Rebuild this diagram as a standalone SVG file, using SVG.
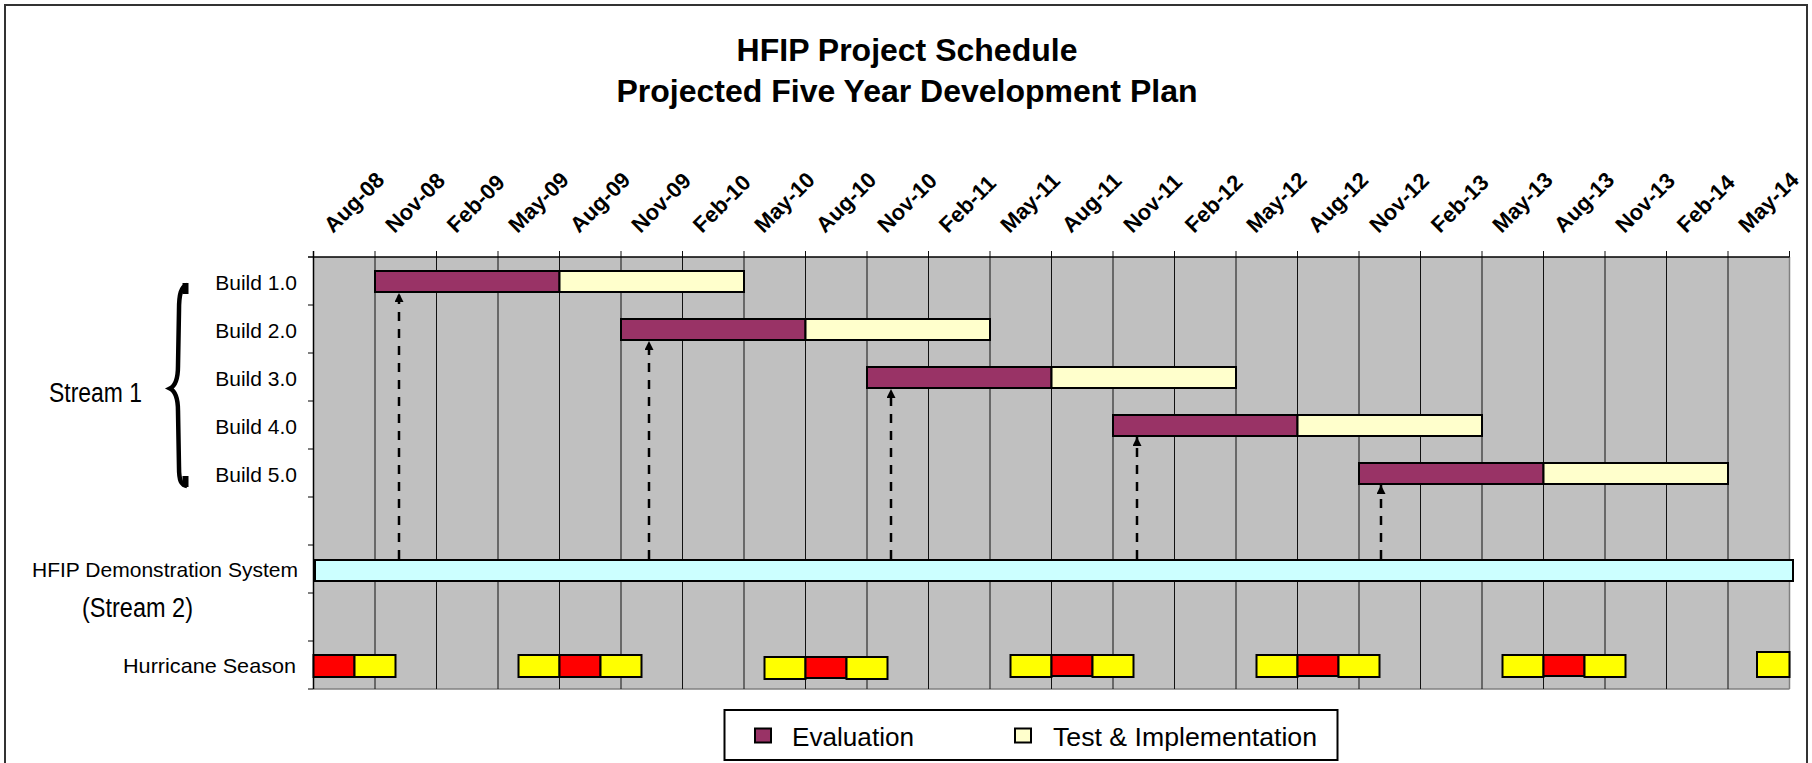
<svg xmlns="http://www.w3.org/2000/svg" width="1812" height="763" viewBox="0 0 1812 763">
  <defs>
    <style>
      text { font-family: "Liberation Sans", Arial, sans-serif; fill: #000; }
      .title { font-size: 32px; font-weight: bold; text-anchor: middle; }
      .axis { font-size: 22px; font-weight: bold; }
      .cat { font-size: 21px; text-anchor: end; }
      .stream { font-size: 27px; }
      .legend { font-size: 26px; }
      .grid { stroke: #111; stroke-width: 1; }
      .tick { stroke: #000; stroke-width: 1; }
      .bar { stroke: #000; stroke-width: 2; }
      .eval { fill: #993366; }
      .test { fill: #FFFFCC; }
      .demo { fill: #CCFFFF; }
      .red { fill: #FF0000; }
      .yel { fill: #FFFF00; }
      .link { fill: none; stroke: #000; stroke-width: 2.5; stroke-dasharray: 9 8; marker-end: url(#arrowUp); }
    </style>
    <marker id="arrowUp" markerUnits="userSpaceOnUse" viewBox="0 0 10 10" refX="10" refY="5" markerWidth="11" markerHeight="9" orient="auto">
      <path d="M0,0 L10,5 L0,10 Z" fill="#000"/>
    </marker>
  </defs>

  <!-- page frame -->
  <rect x="5" y="5" width="1802" height="800" fill="#fff" stroke="#333" stroke-width="2"/>

  <!-- title -->
  <g id="title">
    <text class="title" x="907" y="61">HFIP Project Schedule</text>
    <text class="title" x="907" y="102">Projected Five Year Development Plan</text>
  </g>

  <!-- plot area and grid -->
  <g id="plot">
    <rect x="313.5" y="257" width="1476" height="432" fill="#C0C0C0"/>
    <line x1="1789.5" y1="257" x2="1789.5" y2="689" stroke="#808080" stroke-width="1.5"/>
    <line x1="313.5" y1="689" x2="1789.5" y2="689" stroke="#808080" stroke-width="1.5"/>
    <g class="grid">
      <line x1="375" y1="251" x2="375" y2="689"/>
      <line x1="436.5" y1="251" x2="436.5" y2="689"/>
      <line x1="498" y1="251" x2="498" y2="689"/>
      <line x1="559.5" y1="251" x2="559.5" y2="689"/>
      <line x1="621" y1="251" x2="621" y2="689"/>
      <line x1="682.5" y1="251" x2="682.5" y2="689"/>
      <line x1="744" y1="251" x2="744" y2="689"/>
      <line x1="805.5" y1="251" x2="805.5" y2="689"/>
      <line x1="867" y1="251" x2="867" y2="689"/>
      <line x1="928.5" y1="251" x2="928.5" y2="689"/>
      <line x1="990" y1="251" x2="990" y2="689"/>
      <line x1="1051.5" y1="251" x2="1051.5" y2="689"/>
      <line x1="1113" y1="251" x2="1113" y2="689"/>
      <line x1="1174.5" y1="251" x2="1174.5" y2="689"/>
      <line x1="1236" y1="251" x2="1236" y2="689"/>
      <line x1="1297.5" y1="251" x2="1297.5" y2="689"/>
      <line x1="1359" y1="251" x2="1359" y2="689"/>
      <line x1="1420.5" y1="251" x2="1420.5" y2="689"/>
      <line x1="1482" y1="251" x2="1482" y2="689"/>
      <line x1="1543.5" y1="251" x2="1543.5" y2="689"/>
      <line x1="1605" y1="251" x2="1605" y2="689"/>
      <line x1="1666.5" y1="251" x2="1666.5" y2="689"/>
      <line x1="1728" y1="251" x2="1728" y2="689"/>
      <line x1="1789.5" y1="251" x2="1789.5" y2="257"/>
    </g>
    <!-- axes -->
    <line x1="308" y1="257" x2="1789.5" y2="257" stroke="#000" stroke-width="1.5"/>
    <line x1="313.5" y1="251" x2="313.5" y2="689" stroke="#000" stroke-width="1.5"/>
    <g class="tick">
      <line x1="308" y1="305" x2="313.5" y2="305"/>
      <line x1="308" y1="353" x2="313.5" y2="353"/>
      <line x1="308" y1="401" x2="313.5" y2="401"/>
      <line x1="308" y1="449" x2="313.5" y2="449"/>
      <line x1="308" y1="497" x2="313.5" y2="497"/>
      <line x1="308" y1="545" x2="313.5" y2="545"/>
      <line x1="308" y1="593" x2="313.5" y2="593"/>
      <line x1="308" y1="641" x2="313.5" y2="641"/>
      <line x1="308" y1="689" x2="313.5" y2="689"/>
    </g>
  </g>

  <!-- date axis labels -->
  <g id="date-axis" class="axis">
    <text transform="translate(333,234) rotate(-45)">Aug-08</text>
    <text transform="translate(394.5,234) rotate(-45)">Nov-08</text>
    <text transform="translate(456,234) rotate(-45)">Feb-09</text>
    <text transform="translate(517.5,234) rotate(-45)">May-09</text>
    <text transform="translate(579,234) rotate(-45)">Aug-09</text>
    <text transform="translate(640.5,234) rotate(-45)">Nov-09</text>
    <text transform="translate(702,234) rotate(-45)">Feb-10</text>
    <text transform="translate(763.5,234) rotate(-45)">May-10</text>
    <text transform="translate(825,234) rotate(-45)">Aug-10</text>
    <text transform="translate(886.5,234) rotate(-45)">Nov-10</text>
    <text transform="translate(948,234) rotate(-45)">Feb-11</text>
    <text transform="translate(1009.5,234) rotate(-45)">May-11</text>
    <text transform="translate(1071,234) rotate(-45)">Aug-11</text>
    <text transform="translate(1132.5,234) rotate(-45)">Nov-11</text>
    <text transform="translate(1194,234) rotate(-45)">Feb-12</text>
    <text transform="translate(1255.5,234) rotate(-45)">May-12</text>
    <text transform="translate(1317,234) rotate(-45)">Aug-12</text>
    <text transform="translate(1378.5,234) rotate(-45)">Nov-12</text>
    <text transform="translate(1440,234) rotate(-45)">Feb-13</text>
    <text transform="translate(1501.5,234) rotate(-45)">May-13</text>
    <text transform="translate(1563,234) rotate(-45)">Aug-13</text>
    <text transform="translate(1624.5,234) rotate(-45)">Nov-13</text>
    <text transform="translate(1686,234) rotate(-45)">Feb-14</text>
    <text transform="translate(1747.5,234) rotate(-45)">May-14</text>
  </g>

  <!-- stream 1 grouping -->
  <g id="stream1">
    <text class="stream" x="49" y="401.5" textLength="93" lengthAdjust="spacingAndGlyphs">Stream 1</text>
    <path d="M187,285 C181,287 179,294 179,310 L178,366 C178,380 175,386 170,388.5 C175,391 178,397 178,411 L179,467 C179,481 181,485 187,486" fill="none" stroke="#000" stroke-width="4.5"/>
    <rect x="182.5" y="283" width="6" height="11" fill="#000"/>
    <rect x="182.5" y="476" width="6" height="11" fill="#000"/>
  </g>

  <!-- builds -->
  <g id="build1">
    <text class="cat" x="297" y="290">Build 1.0</text>
    <rect class="bar eval" x="375" y="271" width="184.5" height="21"/>
    <rect class="bar test" x="559.5" y="271" width="184.5" height="21"/>
  </g>
  <g id="build2">
    <text class="cat" x="297" y="338">Build 2.0</text>
    <rect class="bar eval" x="621" y="319" width="184.5" height="21"/>
    <rect class="bar test" x="805.5" y="319" width="184.5" height="21"/>
  </g>
  <g id="build3">
    <text class="cat" x="297" y="386">Build 3.0</text>
    <rect class="bar eval" x="867" y="367" width="184.5" height="21"/>
    <rect class="bar test" x="1051.5" y="367" width="184.5" height="21"/>
  </g>
  <g id="build4">
    <text class="cat" x="297" y="434">Build 4.0</text>
    <rect class="bar eval" x="1113" y="415" width="184.5" height="21"/>
    <rect class="bar test" x="1297.5" y="415" width="184.5" height="21"/>
  </g>
  <g id="build5">
    <text class="cat" x="297" y="482">Build 5.0</text>
    <rect class="bar eval" x="1359" y="463" width="184.5" height="21"/>
    <rect class="bar test" x="1543.5" y="463" width="184.5" height="21"/>
  </g>

  <!-- stream 2 -->
  <g id="demo-system">
    <text class="cat" x="298" y="577" textLength="266" lengthAdjust="spacingAndGlyphs">HFIP Demonstration System</text>
    <text class="stream" x="82" y="617" textLength="111" lengthAdjust="spacingAndGlyphs">(Stream 2)</text>
    <rect class="bar demo" x="315" y="560" width="1478" height="21"/>
  </g>

  <!-- hurricane seasons -->
  <g id="hurricane-season">
    <text class="cat" x="296" y="673" textLength="173" lengthAdjust="spacingAndGlyphs">Hurricane Season</text>
    <rect class="bar red" x="313.5" y="655" width="41" height="22"/>
    <rect class="bar yel" x="354.5" y="655" width="41" height="22"/>

    <rect class="bar yel" x="518.5" y="655" width="41" height="22"/>
    <rect class="bar red" x="559.5" y="655" width="41" height="22"/>
    <rect class="bar yel" x="600.5" y="655" width="41" height="22"/>

    <rect class="bar yel" x="764.5" y="657" width="41" height="22"/>
    <rect class="bar red" x="805.5" y="657" width="41" height="21"/>
    <rect class="bar yel" x="846.5" y="657" width="41" height="22"/>

    <rect class="bar yel" x="1010.5" y="655" width="41" height="22"/>
    <rect class="bar red" x="1051.5" y="655" width="41" height="21"/>
    <rect class="bar yel" x="1092.5" y="655" width="41" height="22"/>

    <rect class="bar yel" x="1256.5" y="655" width="41" height="22"/>
    <rect class="bar red" x="1297.5" y="655" width="41" height="21"/>
    <rect class="bar yel" x="1338.5" y="655" width="41" height="22"/>

    <rect class="bar yel" x="1502.5" y="655" width="41" height="22"/>
    <rect class="bar red" x="1543.5" y="655" width="41" height="21"/>
    <rect class="bar yel" x="1584.5" y="655" width="41" height="22"/>

    <rect class="bar yel" x="1757" y="652" width="32.5" height="25"/>
  </g>

  <!-- demonstration system feeds each build -->
  <g id="connectors">
    <path class="link" d="M399,559 L399,293"/>
    <path class="link" d="M649,559 L649,341"/>
    <path class="link" d="M891,559 L891,389"/>
    <path class="link" d="M1137,559 L1137,437"/>
    <path class="link" d="M1381,559 L1381,485"/>
  </g>

  <!-- legend -->
  <g id="legend">
    <rect x="724.5" y="710" width="613" height="50" fill="#fff" stroke="#000" stroke-width="2"/>
    <rect class="bar eval" x="755" y="728.5" width="16" height="14"/>
    <text class="legend" x="792" y="745.5" textLength="122" lengthAdjust="spacingAndGlyphs">Evaluation</text>
    <rect class="bar test" x="1015" y="728.5" width="16" height="14"/>
    <text class="legend" x="1053" y="745.5" textLength="264" lengthAdjust="spacingAndGlyphs">Test &amp; Implementation</text>
  </g>
</svg>
